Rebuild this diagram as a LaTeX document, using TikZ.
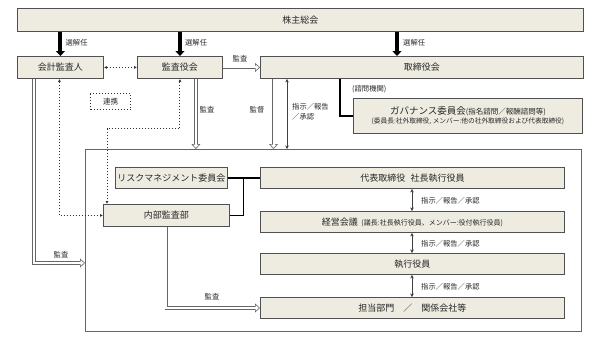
\documentclass[tikz,border=0pt]{standalone}
\usepackage{fontspec}
\setmainfont{Noto Sans CJK JP}
\usetikzlibrary{arrows.meta,calc}
\definecolor{boxfill}{HTML}{EEECE1}
\definecolor{edge}{HTML}{505050}
\begin{document}
\begin{tikzpicture}[x=1pt,y=-1pt,
  box/.style={draw=edge, line width=0.9pt, fill=boxfill, inner sep=0pt, anchor=north west, text=black!85,
    font=\fontsize{9}{10}\selectfont},
  lbl/.style={font=\fontsize{7.3}{8}\selectfont, inner sep=0pt, text=black!85},
  bigarr/.style={line width=4pt, draw=black, -{Triangle[length=5pt,width=9pt]}},
  dotarr/.style={draw=black!80, line width=1pt, dotted, {Latex[length=3pt,width=3pt]}-{Latex[length=3pt,width=3pt]}},
  dbl/.style={draw=black!60, line width=3.3pt,
    -{Triangle[length=5pt,width=9pt,line width=0.6pt,fill=white]},
    postaction={draw=white, line width=2pt, arrows=-, shorten >=3pt}},
  twoway/.style={draw=black!75, line width=0.6pt, {Stealth[length=3.5pt,width=3.5pt]}-{Stealth[length=3.5pt,width=3.5pt]}},
  link/.style={draw=black, line width=1.3pt},
  frame/.style={draw=black!60, line width=0.8pt, inner sep=0pt, anchor=north west}]
\useasboundingbox (0,0) rectangle (598,341);

% frame for executive side
\node[frame, minimum width=496pt, minimum height=182pt] (grp) at (85,149) {};

% boxes
\node[box, minimum width=566pt, minimum height=23pt] (kabu) at (17,8) {株主総会};
\node[box, minimum width=86pt, minimum height=22pt] (kaikei) at (17,56) {会計監査人};
\node[box, minimum width=85pt, minimum height=22pt] (kansa) at (137,56) {監査役会};
\node[box, minimum width=323pt, minimum height=22pt] (tori) at (260,56) {取締役会};
\node[box, minimum width=229pt, minimum height=35pt, align=center] (gov) at (353,98)
  {{\fontsize{9.5}{11}\selectfont ガバナンス委員会}{\fontsize{7.5}{9}\selectfont (指名諮問／報酬諮問等)}\\[-1pt]
   {\fontsize{6.7}{9}\selectfont (委員長:社外取締役, メンバー:他の社外取締役および代表取締役)}};
\node[box, minimum width=112pt, minimum height=21pt] (risk) at (115,167) {リスクマネジメント委員会};
\node[box, minimum width=126pt, minimum height=22pt] (naibu) at (103,204) {内部監査部};
\node[box, minimum width=304pt, minimum height=21pt] (daihyo) at (260,167) {代表取締役\hspace{0.6em}社長執行役員};
\node[box, minimum width=304pt, minimum height=21pt] (keiei) at (260,211)
  {経営会議\hspace{0.4em}{\fontsize{7}{8}\selectfont (議長:社長執行役員、メンバー:役付執行役員)}};
\node[box, minimum width=304pt, minimum height=21pt] (shikko) at (260,253) {執行役員};
\node[box, minimum width=304pt, minimum height=21pt] (tanto) at (260,297) {担当部門\hspace{1em}／\hspace{1em}関係会社等};

% renkei dotted box
\node[draw=black!80, line width=1pt, dotted, minimum width=40pt, minimum height=16pt, inner sep=0pt,
  anchor=north west, font=\fontsize{7.5}{8}\selectfont, text=black!85] (renkei) at (90,93) {連携};

% election arrows
\draw[bigarr] (kaikei.north |- kabu.south) -- (kaikei.north);
\draw[bigarr] (kansa.north |- kabu.south) -- (kansa.north);
\coordinate (toritop) at ($(tori.north west)+(137,0)$);
\draw[bigarr] (toritop |- kabu.south) -- (toritop);
\node[lbl, anchor=west] at ($(kaikei.north)+(5,-13)$) {選解任};
\node[lbl, anchor=west] at ($(kansa.north)+(5,-13)$) {選解任};
\node[lbl, anchor=west] at ($(toritop)+(6,-13)$) {選解任};

% kaikei <-> kansa
\draw[dotarr] (kaikei.east) -- (kansa.west);

% kansa -> tori
\draw[dbl] (kansa.east) -- (tori.west);
\node[lbl] at (240,59) {監査};

% kaikei audit line to frame
\coordinate (kk) at ($(kaikei.south west)+(17,0)$);
\coordinate (kkend) at (85,263);
\draw[dbl] (kk) |- (kkend);
\node[lbl] at (61,255) {監査};

% dotted kaikei <-> naibu
\draw[dotarr] ($(kaikei.south)+(-1,0)$) |- (naibu.west);
% dotted kansa <-> naibu
\coordinate (nb) at ($(naibu.north west)+(4,0)$);
\draw[dotarr] (kansa.south) -- ++(0,50) -| (nb);

% kansa audit down
\coordinate (ks) at ($(kansa.south east)+(-27,0)$);
\draw[dbl] (ks) -- (ks |- grp.north);
\node[lbl] at (207,110) {監査};

% tori supervision down
\coordinate (ts) at ($(tori.south west)+(13.5,0)$);
\draw[dbl] (ts) -- (ts |- grp.north);
\node[lbl] at (257,110) {監督};

% tori <-> grp
\coordinate (tw) at ($(tori.south west)+(27,0)$);
\draw[twoway] (tw) -- (tw |- grp.north);
\node[lbl, anchor=north west, align=left] at (292,103) {指示／報告\\[2pt]／承認};

% tori -> governance
\coordinate (tg) at ($(tori.south west)+(80,0)$);
\draw[link] (tg) |- (gov.west);
\node[lbl, anchor=west] at (352,89) {(諮問機関)};

% risk / naibu -> daihyo
\draw[link] (risk.east) -- (daihyo.west);
\draw[link] (naibu.east) -| ($(risk.east)!0.48!(daihyo.west)$);

% executive chain
\coordinate (ex) at ($(daihyo.south west)+(152,0)$);
\draw[twoway] (ex) -- (ex |- keiei.north);
\draw[twoway] (ex |- keiei.south) -- (ex |- shikko.north);
\draw[twoway] (ex |- shikko.south) -- (ex |- tanto.north);
\node[lbl, anchor=west] at ($(ex)+(9,11.5)$) {指示／報告／承認};
\node[lbl, anchor=west] at ($(ex |- keiei.south)+(9,11)$) {指示／報告／承認};
\node[lbl, anchor=west] at ($(ex |- shikko.south)+(9,11.5)$) {指示／報告／承認};

% naibu audit -> tanto
\draw[dbl] (naibu.south) |- (tanto.west);
\node[lbl] at (212,297) {監査};
\end{tikzpicture}
\end{document}
